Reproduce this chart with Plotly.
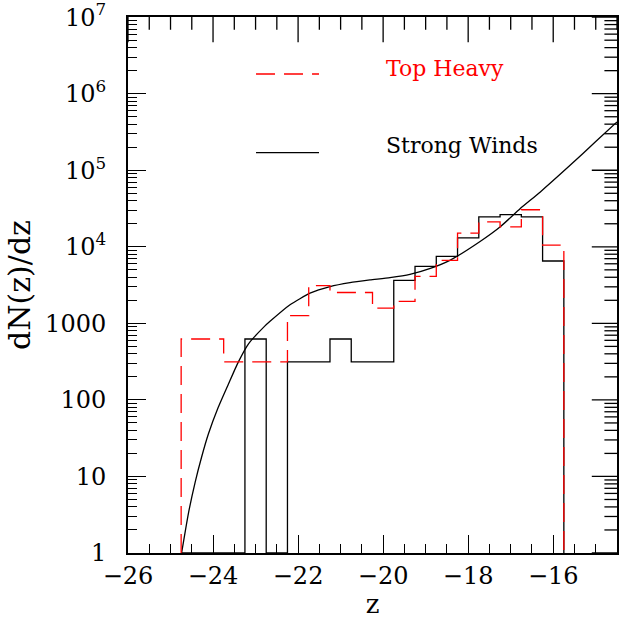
import plotly.graph_objects as go

# ---- data ----
bin_edges_left = [-24.75, -24.25, -23.75, -23.25, -22.75, -22.25, -21.75, -21.25, -20.75,
                  -20.25, -19.75, -19.25, -18.75, -18.25, -17.75, -17.25, -16.75, -16.25]
bin_width = 0.5
top_heavy = [625, 625, 314, 314, 314, 1259, 3119, 2528, 2528,
             1581, 1932, 4113, 6637, 15070, 21120, 18200, 30500, 10520]
strong_winds = [0, 0, 0, 625, 0, 314, 314, 625, 314,
                314, 3650, 5550, 7480, 13090, 24540, 26250, 24540, 6520]

curve_z = [-24.74, -24.58, -24.42, -24.27, -24.11, -23.88, -23.64, -23.41, -23.17,
           -22.79, -22.66, -22.19, -21.72, -21.25, -20.78, -20.31, -19.84, -19.37,
           -18.89, -18.42, -17.72, -17.23, -16.78, -16.31, -15.61, -15.0, -14.5]
curve_dn = [1.0, 3.28, 8.43, 17.8, 35.8, 79.4, 160, 309, 537,
            912, 1062, 1750, 2477, 3020, 3404, 3690, 3954, 4365,
            5224, 6714, 11750, 18580, 31410, 51760, 115100, 237100, 428500]

y_tickvals = [1, 10, 100, 1000, 1e4, 1e5, 1e6, 1e7]
y_ticktext = ["1", "10", "100", "1000", "10<sup>4</sup>", "10<sup>5</sup>",
              "10<sup>6</sup>", "10<sup>7</sup>"]

X_MIN, X_MAX = -26.0, -14.5
Y_MIN, Y_MAX = 1.0, 1e7
Y_RANGE_LOG = [0, 7.002]
Y_FLOOR = 1.0


def step_path(lefts, width, vals, floor):
    xs, ys = [lefts[0]], [floor]
    for l, v in zip(lefts, vals):
        v = v if v > 0 else floor
        xs += [l, l + width]
        ys += [v, v]
    xs.append(lefts[-1] + width)
    ys.append(floor)
    return xs, ys


# tick positions for the mirrored (top / right) ticks
x_major = [X_MIN + 2 * i for i in range(6)]
x_minor = [X_MIN + 0.5 * i for i in range(1, 24) if (0.5 * i) % 2 != 0]
y_major = y_tickvals
y_minor = [k * 10 ** d for d in range(7) for k in range(2, 10)]

FONT = "DejaVu Serif"
fig = go.Figure()

xs, ys = step_path(bin_edges_left, bin_width, strong_winds, Y_FLOOR)
fig.add_trace(go.Scatter(x=xs, y=ys, mode="lines", line=dict(color="black", width=1.3),
                         showlegend=False, hoverinfo="skip"))
fig.add_trace(go.Scatter(x=curve_z, y=curve_dn, mode="lines",
                         line=dict(color="black", width=1.3, shape="spline", smoothing=0.5),
                         showlegend=False, hoverinfo="skip"))
xs, ys = step_path(bin_edges_left, bin_width, top_heavy, Y_FLOOR)
fig.add_trace(go.Scatter(x=xs, y=ys, mode="lines",
                         line=dict(color="#ff0000", width=1.3, dash="19px,9px"),
                         showlegend=False, hoverinfo="skip"))

# mirrored ticks on the top and right frame (markers clipped to the plot area)
def tick_marks(x, y, symbol, size):
    fig.add_trace(go.Scatter(x=x, y=y, mode="markers", cliponaxis=True, showlegend=False,
                             hoverinfo="skip",
                             marker=dict(symbol=symbol, size=size, color="black",
                                         line=dict(color="black", width=1.3))))

tick_marks(x_major, [Y_MAX] * len(x_major), "line-ns-open", 36)
tick_marks(x_minor, [Y_MAX] * len(x_minor), "line-ns-open", 18)
tick_marks([X_MAX] * len(y_major), y_major, "line-ew-open", 36)
tick_marks([X_MAX] * len(y_minor), y_minor, "line-ew-open", 18)

# legend drawn by hand
fig.add_shape(type="line", xref="paper", yref="paper", x0=0.2618, x1=0.3906, y0=0.8937, y1=0.8937,
              line=dict(color="#ff0000", width=1.3, dash="19px,9px"))
fig.add_shape(type="line", xref="paper", yref="paper", x0=0.2618, x1=0.3906, y0=0.7468, y1=0.7468,
              line=dict(color="black", width=1.3))
fig.add_annotation(xref="paper", yref="paper", x=0.5235, y=0.903, xanchor="left", yanchor="middle",
                   text="Top Heavy", showarrow=False, font=dict(family=FONT, size=22, color="#ff0000"))
fig.add_annotation(xref="paper", yref="paper", x=0.5235, y=0.761, xanchor="left", yanchor="middle",
                   text="Strong Winds", showarrow=False, font=dict(family=FONT, size=22, color="black"))

fig.update_layout(
    width=624, height=619,
    margin=dict(l=128, r=7, t=17, b=66),
    plot_bgcolor="white", paper_bgcolor="white",
    font=dict(family=FONT, size=24, color="black"),
    showlegend=False,
)
fig.update_xaxes(
    range=[X_MIN, X_MAX], showgrid=False, zeroline=False, automargin=False,
    showline=True, linecolor="black", linewidth=2, mirror=True,
    ticks="inside", ticklen=18, tickwidth=1.3, tickcolor="black", dtick=2, tick0=X_MIN,
    minor=dict(ticks="inside", ticklen=9, tickwidth=1.3, tickcolor="black", dtick=0.5, showgrid=False),
    title=dict(text="z", font=dict(family=FONT, size=26), standoff=4),
)
fig.update_yaxes(
    type="log", range=Y_RANGE_LOG, showgrid=False, zeroline=False, automargin=False,
    showline=True, linecolor="black", linewidth=2, mirror=True,
    ticks="inside", ticklen=18, tickwidth=1.3, tickcolor="black",
    tickvals=y_tickvals, ticktext=y_ticktext, ticklabelstandoff=15, ticklabeloverflow="allow",
    minor=dict(ticks="inside", ticklen=9, tickwidth=1.3, tickcolor="black", dtick="D1", showgrid=False),
    title=dict(text="dN(z)/dz", font=dict(family=FONT, size=30), standoff=6),
)

fig.write_html("out.html")
